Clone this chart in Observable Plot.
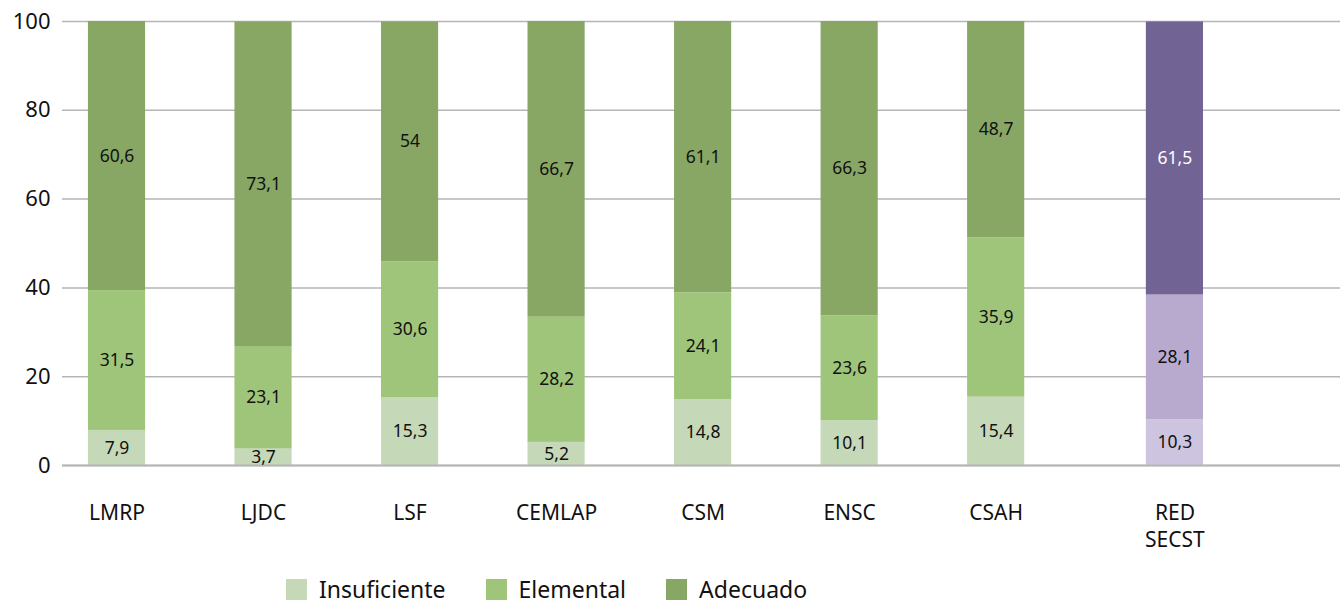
<!DOCTYPE html>
<html>
<head>
<meta charset="utf-8">
<script src="https://cdn.jsdelivr.net/npm/d3@7"></script>
<script src="https://cdn.jsdelivr.net/npm/@observablehq/plot@0.6"></script>
<style>
  html, body { margin: 0; padding: 0; background: #fff; }
  body { font-family: "Noto Sans", "Open Sans", sans-serif; width: 1340px; height: 607px; overflow: hidden; }
  #legend { display: flex; align-items: center; padding-left: 286px; padding-top: 4px; height: 30px; font-size: 23px; line-height: 28px; color: #111; }
  .item { display: flex; align-items: center; margin-right: 40px; }
  .sw { width: 21px; height: 21px; margin-right: 12px; }
</style>
</head>
<body>
<div id="chart"></div>
<div id="legend"></div>
<script>
const categories = ["LMRP", "LJDC", "LSF", "CEMLAP", "CSM", "ENSC", "CSAH", "RED SECST"];
const groups = ["escuela", "escuela", "escuela", "escuela", "escuela", "escuela", "escuela", "red"];
const insuficiente = [7.9, 3.7, 15.3, 5.2, 14.8, 10.1, 15.4, 10.3];
const elemental = [31.5, 23.1, 30.6, 28.2, 24.1, 23.6, 35.9, 28.1];
const adecuado = [60.6, 73.1, 54, 66.7, 61.1, 66.3, 48.7, 61.5];
const levels = ["Insuficiente", "Elemental", "Adecuado"];
const yTicks = [0, 20, 40, 60, 80, 100];

const greenColors = ["#c5d8b7", "#9fc57a", "#88a765"];
const purpleColors = ["#cdc4df", "#b8a9cf", "#716393"];
const textColorsGreen = ["#111", "#111", "#111"];
const textColorsPurple = ["#111", "#111", "#fff"];

const series = [insuficiente, elemental, adecuado];
const groupGap = 0.22;
const halfWidth = 0.195;
const pos = categories.map((c, i) => i + (groups[i] === "red" ? groupGap : 0));

const rows = [];
categories.forEach((cat, i) => {
  let acc = 0;
  series.forEach((s, k) => {
    const v = s[i];
    const red = groups[i] === "red";
    rows.push({
      cat, pos: pos[i], level: levels[k], value: v,
      y1: acc, y2: acc + v,
      fill: red ? purpleColors[k] : greenColors[k],
      tfill: red ? textColorsPurple[k] : textColorsGreen[k]
    });
    acc += v;
  });
});
const fmt = v => String(v).replace(".", ",");
const tickLabel = p => {
  const i = pos.findIndex(q => Math.abs(q - p) < 1e-6);
  return i < 0 ? "" : categories[i].replace(" ", "\n");
};

const chart = Plot.plot({
  width: 1340,
  height: 570,
  marginTop: 21,
  marginBottom: 105,
  marginLeft: 62,
  marginRight: 0,
  style: { fontFamily: "'Noto Sans', 'Open Sans', sans-serif", background: "#fff", color: "#111" },
  x: { type: "linear", domain: [-0.372, 8.35] },
  y: { domain: [0, 100] },
  marks: [
    Plot.gridY(yTicks, { stroke: "#b5b5b5", strokeOpacity: 1, strokeWidth: 1.5 }),
    Plot.rect(rows, {
      x1: d => d.pos - halfWidth, x2: d => d.pos + halfWidth,
      y1: "y1", y2: d => Math.min(d.y2, 100), fill: "fill"
    }),
    Plot.ruleY([0], { stroke: "#b5b5b5", strokeWidth: 2 }),
    Plot.text(rows, {
      x: "pos", y: d => (d.y1 + d.y2) / 2, text: d => fmt(d.value),
      fill: "tfill", fontSize: 17.5
    }),
    Plot.axisY(yTicks, { tickSize: 0, tickPadding: 12, fontSize: 22, label: null }),
    Plot.axisX(pos, { tickSize: 0, tickPadding: 35, fontSize: 21, tickFormat: tickLabel, label: null, lineHeight: 1.3 })
  ]
});
document.getElementById("chart").appendChild(chart);

const legend = document.getElementById("legend");
levels.forEach((l, k) => {
  const it = document.createElement("div");
  it.className = "item";
  const sw = document.createElement("div");
  sw.className = "sw";
  sw.style.background = greenColors[k];
  const tx = document.createElement("span");
  tx.textContent = l;
  it.appendChild(sw); it.appendChild(tx);
  legend.appendChild(it);
});
</script>
</body>
</html>
